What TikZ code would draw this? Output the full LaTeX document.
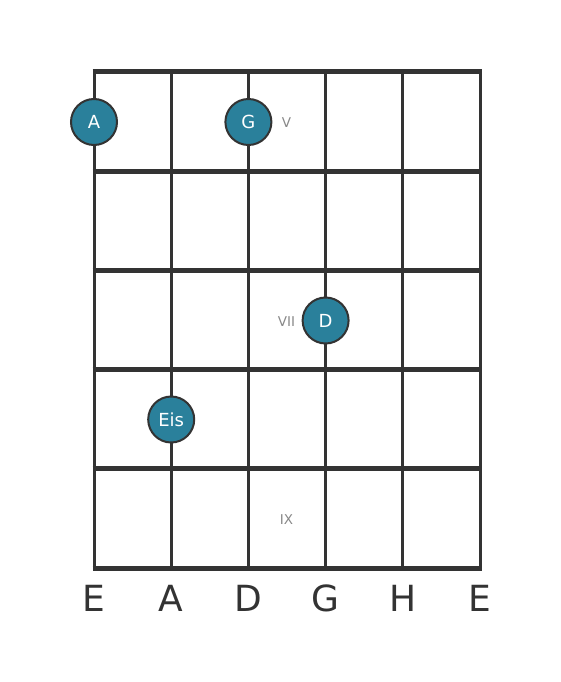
\documentclass[tikz,border=0pt]{standalone}
\usepackage{fontspec}
\setmainfont{DejaVu Sans}
\definecolor{gridc}{HTML}{333333}
\definecolor{dotc}{HTML}{2A809B}
\definecolor{romc}{HTML}{888888}
\begin{document}
\begin{tikzpicture}[x=1pt,y=-1pt,
  fret/.style={draw=gridc,line width=5pt},
  strg/.style={draw=gridc,line width=3pt},
  dot/.style={circle,fill=dotc,draw=gridc,line width=2pt,minimum size=46pt,inner sep=0pt,text=white,font=\fontsize{18}{18}\selectfont},
  rom/.style={text=romc,font=\fontsize{13.5}{14}\selectfont,inner sep=0pt},
  sname/.style={text=gridc,font=\fontsize{36}{36}\selectfont,inner sep=0pt}]
\useasboundingbox (0,0) rectangle (560,682);
\foreach \i/\x in {0/94,1/171.2,2/248.4,3/325.6,4/402.8,5/480}{
  \coordinate (st\i) at (\x,72);
  \coordinate (sb\i) at (\x,568);
  \draw[strg] (st\i) -- (sb\i);
}
\foreach \j/\y in {0/72,1/171.2,2/270.4,3/369.6,4/468.8,5/568}{
  \coordinate (fl\j) at (92.5,\y);
  \coordinate (fr\j) at (481.5,\y);
  \draw[fret] (fl\j) -- (fr\j);
}
\node[dot] (nA) at (94,122) {A};
\node[dot] (nG) at (248.4,122) {G};
\node[dot] (nD) at (325.6,320.5) {D};
\node[dot] (nEis) at (171.2,419.5) {Eis};
\node[rom] (r5) at (286.5,123) {V};
\node[rom] (r7) at (286.5,321.5) {VII};
\node[rom] (r9) at (286.5,520) {IX};
\node[sname] (l0) at (94,598) {E};
\node[sname] (l1) at (171.2,598) {A};
\node[sname] (l2) at (248.4,598) {D};
\node[sname] (l3) at (325.6,598) {G};
\node[sname] (l4) at (402.8,598) {H};
\node[sname] (l5) at (480,598) {E};
\end{tikzpicture}
\end{document}
